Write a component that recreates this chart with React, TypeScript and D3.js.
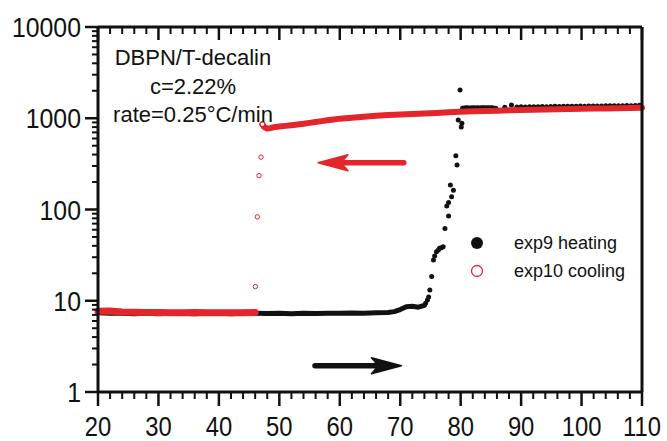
import React from "react";
import * as d3 from "d3";

// ---------- data ----------
// exp9 heating: baseline band
const heatBandT = [20, 22, 24, 26, 28, 30, 32, 34, 36, 38, 40, 42, 44, 46, 48, 50, 52, 54, 56, 58, 60, 62, 64, 66, 68, 69, 70, 71, 72, 73, 74];
const heatBandV = [7.4, 7.3, 7.3, 7.2, 7.3, 7.2, 7.3, 7.3, 7.2, 7.3, 7.3, 7.2, 7.3, 7.3, 7.25, 7.3, 7.2, 7.3, 7.25, 7.3, 7.3, 7.35, 7.3, 7.4, 7.45, 7.6, 8.0, 8.6, 8.7, 8.5, 8.9];
// exp9 heating: transition and plateau (individual dots)
const heatDotT = [74.2, 74.5, 74.7, 74.9, 75.2, 75.5, 75.7, 76.0, 76.3, 76.5, 76.8, 77.1, 77.4, 77.7, 78.0, 78.0, 78.3, 78.5, 78.8, 79.2, 79.4, 79.6, 79.9, 80.1, 80.2,
  80.3, 80.55, 80.8, 81.05, 81.3, 81.55, 81.8, 82.05, 82.3, 82.55, 82.8, 83.05, 83.3, 83.55, 83.8, 84.05, 84.3, 84.55, 84.8, 85.05, 85.3,
  85.8, 87.3, 88.4, 89.3, 90.0, 90.7, 91.4, 92.1, 92.8, 93.5, 94.2, 94.9, 95.6, 96.3, 97.0, 97.7, 98.4, 99.1, 99.8, 100.5, 101.2, 101.9, 102.6, 103.3, 104.0, 104.7, 105.4, 106.1, 106.8, 107.5, 108.2, 108.9, 109.6];
const heatDotV = [9.4, 10.2, 11, 13.1, 18.4, 28, 31, 34.5, 36, 37.5, 38, 39, 62, 109, 85, 119, 185, 138, 163, 388, 307, 958, 2040, 800, 880,
  1290, 1300, 1295, 1305, 1300, 1298, 1302, 1305, 1300, 1298, 1306, 1302, 1300, 1305, 1303, 1300, 1307, 1302, 1305, 1300, 1303,
  1290, 1320, 1400, 1330, 1335, 1330, 1340, 1335, 1340, 1345, 1340, 1345, 1350, 1345, 1350, 1355, 1350, 1355, 1360, 1355, 1360, 1365, 1360, 1365, 1370, 1368, 1372, 1370, 1375, 1378, 1375, 1380, 1385];

// exp10 cooling: upper branch
const coolHighT = [47.2, 47.5, 48, 48.5, 49, 50, 51, 52, 53, 54, 55, 56, 57, 58, 59, 60, 62, 64, 66, 68, 70, 72, 74, 76, 78, 80, 82, 84, 86, 88, 90, 92, 94, 96, 98, 100, 102, 104, 106, 108, 110];
const coolHighV = [860, 800, 770, 780, 795, 810, 825, 840, 855, 870, 890, 910, 930, 950, 970, 990, 1015, 1040, 1065, 1085, 1100, 1115, 1130, 1145, 1160, 1175, 1190, 1200, 1212, 1222, 1232, 1240, 1248, 1255, 1262, 1268, 1275, 1282, 1288, 1295, 1305];
// exp10 cooling: isolated points during the drop
const coolDropT = [46.97, 46.64, 46.36, 46.03];
const coolDropV = [375, 235, 83, 14.3];
// exp10 cooling: lower branch
const coolLowT = [20, 22, 24, 26, 28, 30, 32, 34, 36, 38, 40, 42, 44, 46];
const coolLowV = [7.65, 7.7, 7.55, 7.5, 7.45, 7.45, 7.4, 7.4, 7.45, 7.4, 7.4, 7.38, 7.4, 7.45];

// arrows (direction markers), in data coordinates
const redArrow = { x1: 70.6, x2: 56.4, v: 326 };
const blackArrow = { x1: 55.9, x2: 70.2, v: 1.94 };

const xTicks = [20, 30, 40, 50, 60, 70, 80, 90, 100, 110];
const yTicks = [1, 10, 100, 1000, 10000];
const annotation = ["DBPN/T-decalin", "c=2.22%", "rate=0.25°C/min"];
const legendLabels = ["exp9 heating", "exp10 cooling"];

const W = 667;
const H = 441;
const RED = "#e3262b";
const BLACK = "#111111";
const FONT = "'Liberation Sans', Arial, Helvetica, sans-serif";

export default function App() {
  const x = d3.scaleLinear().domain([20, 110]).range([98, 642]);
  const y = d3.scaleLog().domain([1, 10000]).range([392, 27]);
  const x0 = x(20), x1 = x(110), y0 = y(1), y1 = y(10000);

  const minorX = d3.range(20, 110.001, 2).filter((t) => t % 10 !== 0);
  const minorY: number[] = [];
  for (let dec = 1; dec < 10000; dec *= 10) for (let k = 2; k <= 9; k++) minorY.push(dec * k);

  const line = d3
    .line<[number, number]>()
    .x((d) => x(d[0]))
    .y((d) => y(d[1]))
    .curve(d3.curveLinear);

  const heatBand = heatBandT.map((t, i) => [t, heatBandV[i]] as [number, number]);
  const coolHigh = coolHighT.map((t, i) => [t, coolHighV[i]] as [number, number]);
  const coolLow = coolLowT.map((t, i) => [t, coolLowV[i]] as [number, number]);

  const arrow = (xa: number, xb: number, v: number, color: string, key: string) => {
    const ax = x(xa), bx = x(xb), ay = y(v);
    const dir = bx > ax ? 1 : -1;
    const headLen = 30;
    const half = 8;
    const back = bx - dir * headLen;
    const notch = bx - dir * (headLen - 7);
    const head = `M${bx},${ay} L${back},${ay - half} L${notch},${ay} L${back},${ay + half} Z`;
    return (
      <g key={key}>
        <line x1={ax} x2={notch} y1={ay} y2={ay} stroke={color} strokeWidth={5.5} strokeLinecap="round" />
        <path d={head} fill={color} stroke={color} strokeWidth={1.5} strokeLinejoin="round" />
      </g>
    );
  };

  return (
    <svg width={W} height={H} style={{ position: "absolute", left: 0, top: 0, background: "#fff" }} fontFamily={FONT}>
      <rect x={0} y={0} width={W} height={H} fill="#fff" />

      {/* heating (black) */}
      <path d={line(heatBand) || ""} fill="none" stroke={BLACK} strokeWidth={5} strokeLinejoin="round" strokeLinecap="round" />
      {heatDotT.map((t, i) => (
        <circle key={"h" + i} cx={x(t)} cy={y(heatDotV[i])} r={t > 80.25 && t < 85.5 ? 2.4 : 2.5} fill={BLACK} />
      ))}

      {/* cooling (red) */}
      <path d={line(coolLow) || ""} fill="none" stroke={RED} strokeWidth={7} strokeLinejoin="round" strokeLinecap="round" />
      <path d={line(coolHigh) || ""} fill="none" stroke={RED} strokeWidth={6} strokeLinejoin="round" strokeLinecap="round" />
      {coolDropT.map((t, i) => (
        <circle key={"c" + i} cx={x(t)} cy={y(coolDropV[i])} r={2.2} fill="#fff" stroke={RED} strokeWidth={1} />
      ))}
      <circle cx={x(coolHighT[0])} cy={y(coolHighV[0])} r={2.4} fill="#fff" stroke={RED} strokeWidth={1.2} />

      {/* arrows */}
      {arrow(redArrow.x1, redArrow.x2, redArrow.v, RED, "ra")}
      {arrow(blackArrow.x1, blackArrow.x2, blackArrow.v, BLACK, "ba")}

      {/* frame */}
      <line x1={x0} x2={x1} y1={y1} y2={y1} stroke={BLACK} strokeWidth={3} />
      <line x1={x0} x2={x1} y1={y0} y2={y0} stroke={BLACK} strokeWidth={3} />
      <line x1={x0} x2={x0} y1={y1} y2={y0} stroke={BLACK} strokeWidth={3} />
      <line x1={x1} x2={x1} y1={y1} y2={y0} stroke={BLACK} strokeWidth={3} />

      {/* bottom ticks (outward) */}
      {xTicks.map((t) => (
        <line key={"bx" + t} x1={x(t)} x2={x(t)} y1={y0} y2={y0 + 14} stroke={BLACK} strokeWidth={2.5} />
      ))}
      {minorX.map((t) => (
        <line key={"bm" + t} x1={x(t)} x2={x(t)} y1={y0} y2={y0 + 7} stroke={BLACK} strokeWidth={2} />
      ))}
      {/* top ticks (inward) */}
      {xTicks.map((t) => (
        <line key={"tx" + t} x1={x(t)} x2={x(t)} y1={y1} y2={y1 + 13} stroke={BLACK} strokeWidth={2.5} />
      ))}
      {minorX.map((t) => (
        <line key={"tm" + t} x1={x(t)} x2={x(t)} y1={y1} y2={y1 + 7} stroke={BLACK} strokeWidth={2} />
      ))}
      {/* left ticks (outward) */}
      {yTicks.map((v) => (
        <line key={"ly" + v} x1={x0 - 13} x2={x0} y1={y(v)} y2={y(v)} stroke={BLACK} strokeWidth={2.5} />
      ))}
      {minorY.map((v) => (
        <line key={"lm" + v} x1={x0 - 6} x2={x0} y1={y(v)} y2={y(v)} stroke={BLACK} strokeWidth={2} />
      ))}

      {/* tick labels */}
      {xTicks.map((t) => (
        <text
          key={"xl" + t}
          transform={`translate(${x(t)},${y0 + 44}) scale(0.85,1)`}
          textAnchor="middle"
          fontSize={28}
          fill={BLACK}
        >
          {t}
        </text>
      ))}
      {yTicks.map((v) => (
        <text
          key={"yl" + v}
          transform={`translate(${x0 - 17},${y(v) + 10}) scale(0.92,1)`}
          textAnchor="end"
          fontSize={27}
          fill={BLACK}
        >
          {v}
        </text>
      ))}

      {/* annotation */}
      {annotation.map((s, i) => (
        <text key={"an" + i} x={193} y={65 + i * 28.5} textAnchor="middle" fontSize={22} fill={BLACK}>
          {s}
        </text>
      ))}

      {/* legend */}
      <circle cx={477} cy={243} r={6} fill={BLACK} />
      <circle cx={477} cy={271} r={5.5} fill="#fff" stroke={RED} strokeWidth={1.3} />
      <text x={514} y={249} fontSize={18} fill={BLACK}>{legendLabels[0]}</text>
      <text x={514} y={277} fontSize={18} fill={BLACK}>{legendLabels[1]}</text>
    </svg>
  );
}
